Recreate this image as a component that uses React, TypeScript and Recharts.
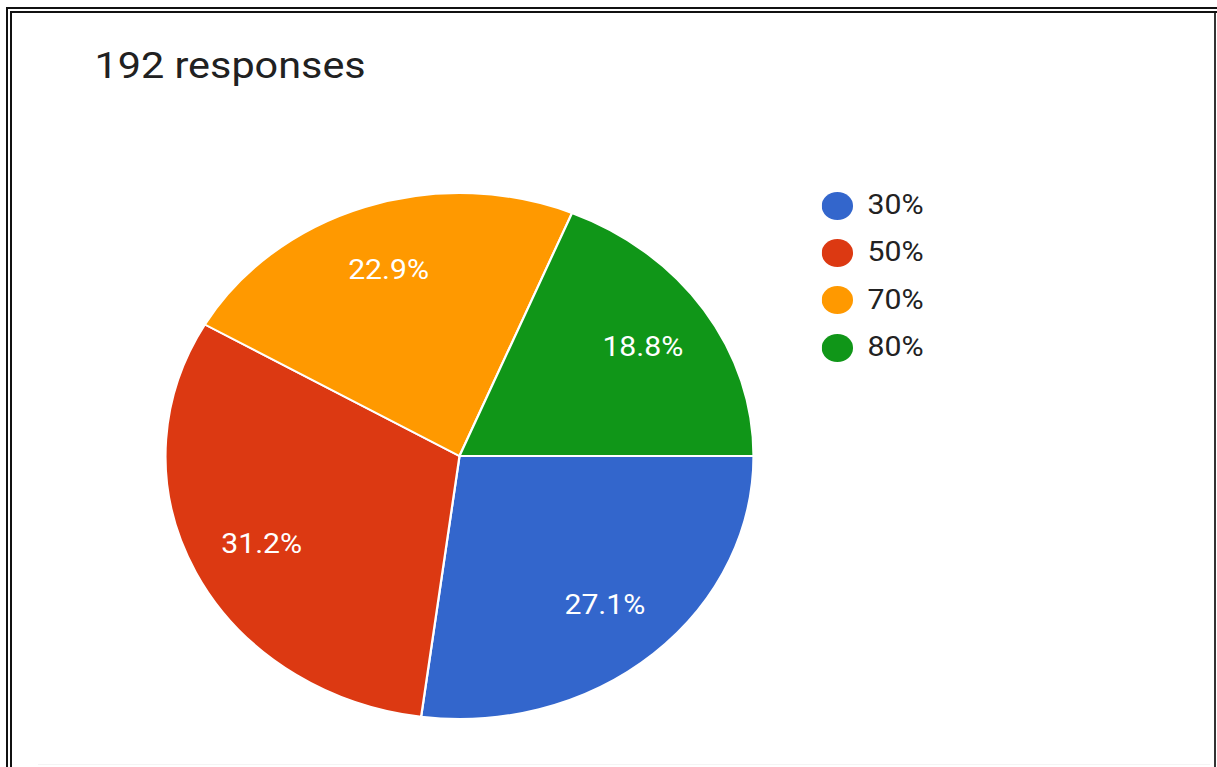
import React from 'react';
import { PieChart, Pie, Cell, Legend } from 'recharts';

const categories = ['30%', '50%', '70%', '80%'];
const responses = [52, 60, 44, 36];
const percentLabels = ['27.1%', '31.2%', '22.9%', '18.8%'];
const colors = ['#3366cc', '#dc3912', '#ff9900', '#109618'];
const title = '192 responses';

const data = categories.map((name, i) => ({ name, value: responses[i] }));

const RAD = Math.PI / 180;
const FONT = 'Roboto, "Noto Sans", Arial, sans-serif';
const SX = 1.118;

const renderLabel = (props: any) => {
  const { cx, cy, midAngle, outerRadius, index } = props;
  const r = outerRadius * 0.75;
  const x = cx + r * Math.cos(-midAngle * RAD);
  const y = cy + r * Math.sin(-midAngle * RAD);
  return (
    <text
      x={x}
      y={y}
      fill="#ffffff"
      textAnchor="middle"
      dominantBaseline="central"
      fontSize={27}
      fontFamily={FONT}
    >
      {percentLabels[index]}
    </text>
  );
};

const renderLegend = (props: any) => {
  const { payload } = props;
  return (
    <div style={{ fontFamily: FONT }}>
      {(payload || []).map((entry: any, i: number) => (
        <div
          key={i}
          style={{ display: 'flex', alignItems: 'center', height: 47.3 }}
        >
          <svg width={28} height={28} style={{ display: 'block' }}>
            <circle cx={14} cy={14} r={14} fill={entry.color} />
          </svg>
          <span
            style={{
              marginLeft: 13,
              fontSize: 27,
              color: '#222222',
              lineHeight: '47px',
            }}
          >
            {entry.value}
          </span>
        </div>
      ))}
    </div>
  );
};

export default function App() {
  return (
    <div
      style={{
        position: 'fixed',
        left: 0,
        top: 0,
        width: 1217,
        height: 767,
        background: '#ffffff',
        overflow: 'hidden',
      }}
    >
      <div
        style={{
          position: 'absolute',
          left: 0,
          top: 0,
          width: 1088,
          height: 767,
          transform: `scaleX(${SX})`,
          transformOrigin: '0 0',
        }}
      >
        <div
          style={{
            position: 'absolute',
            left: 84.5,
            top: 47,
            fontFamily: FONT,
            fontSize: 37,
            lineHeight: '37px',
            color: '#212121',
            whiteSpace: 'nowrap',
          }}
        >
          {title}
        </div>
        <PieChart
          width={1088}
          height={767}
          margin={{ top: 0, right: 0, bottom: 0, left: 0 }}
        >
          <Pie
            data={data}
            dataKey="value"
            nameKey="name"
            cx={411}
            cy={456}
            outerRadius={263}
            startAngle={0}
            endAngle={-360}
            stroke="#ffffff"
            strokeWidth={2}
            label={renderLabel}
            labelLine={false}
            isAnimationActive={false}
          >
            {data.map((d, i) => (
              <Cell key={d.name} fill={colors[i]} />
            ))}
          </Pie>
          <Legend
            layout="vertical"
            verticalAlign="top"
            align="right"
            content={renderLegend}
            wrapperStyle={{ left: 735, top: 182, width: 200, right: 'auto' }}
          />
        </PieChart>
      </div>
      <div
        style={{
          position: 'absolute',
          left: 6,
          top: 7,
          width: 1230,
          height: 780,
          borderTop: '6px double #111',
          borderLeft: '6px double #111',
          boxSizing: 'border-box',
        }}
      />
      <div
        style={{
          position: 'absolute',
          left: 1214,
          top: 13,
          width: 2,
          height: 760,
          background: '#333',
        }}
      />
      <div
        style={{
          position: 'absolute',
          left: 38,
          top: 764,
          width: 1172,
          height: 1,
          background: '#f4f4f4',
        }}
      />
    </div>
  );
}
